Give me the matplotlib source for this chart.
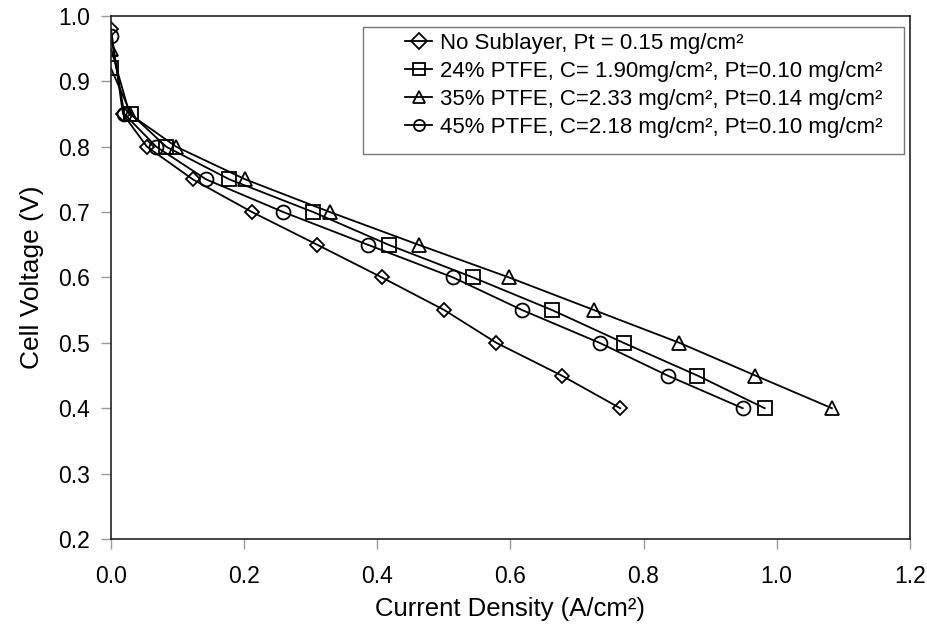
import matplotlib
matplotlib.use("Agg")
import matplotlib.pyplot as plt
from matplotlib.patches import Rectangle

plt.rcParams['font.family'] = ['Liberation Sans', 'DejaVu Sans']

# Zellspannung [V]
v_no = [0.98, 0.85, 0.80, 0.75, 0.70, 0.65, 0.60, 0.55, 0.50, 0.45, 0.40]
v_24 = [0.92, 0.85, 0.80, 0.75, 0.70, 0.65, 0.60, 0.55, 0.50, 0.45, 0.40]
v_35 = [0.95, 0.85, 0.80, 0.75, 0.70, 0.65, 0.60, 0.55, 0.50, 0.45, 0.40]
v_45 = [0.97, 0.85, 0.80, 0.75, 0.70, 0.65, 0.60, 0.55, 0.50, 0.45, 0.40]

# Stromdichte [A/cm2]
i_no = [0.0, 0.018, 0.054, 0.123, 0.212, 0.310, 0.407, 0.501, 0.579, 0.677, 0.765]
i_24 = [0.0, 0.030, 0.083, 0.178, 0.304, 0.417, 0.544, 0.663, 0.770, 0.881, 0.982]
i_35 = [0.0, 0.028, 0.098, 0.202, 0.329, 0.462, 0.598, 0.726, 0.854, 0.968, 1.083]
i_45 = [0.0, 0.020, 0.068, 0.143, 0.259, 0.386, 0.514, 0.618, 0.734, 0.836, 0.949]

labels = ['No Sublayer, Pt = 0.15 mg/cm²',
          '24% PTFE, C= 1.90mg/cm², Pt=0.10 mg/cm²',
          '35% PTFE, C=2.33 mg/cm², Pt=0.14 mg/cm²',
          '45% PTFE, C=2.18 mg/cm², Pt=0.10 mg/cm²']

fig = plt.figure(figsize=(9.28, 6.26), dpi=100)
ax = fig.add_axes([0.1196, 0.139, 0.8608, 0.8355])

stil = dict(color='black', lw=1.3, mfc='none', mec='black', mew=1.3)
ax.plot(i_no, v_no, marker='D', ms=7, label=labels[0], **stil)
ax.plot(i_24, v_24, marker='s', ms=10, label=labels[1], **stil)
ax.plot(i_35, v_35, marker='^', ms=10, label=labels[2], **stil)
ax.plot(i_45, v_45, marker='o', ms=10, label=labels[3], **stil)

ax.set_xlim(0, 1.2)
ax.set_ylim(0.2, 1.0)
ax.set_xticks([0.0, 0.2, 0.4, 0.6, 0.8, 1.0, 1.2])
ax.set_yticks([0.2, 0.3, 0.4, 0.5, 0.6, 0.7, 0.8, 0.9, 1.0])
ax.xaxis.set_major_formatter(matplotlib.ticker.FormatStrFormatter('%.1f'))
ax.yaxis.set_major_formatter(matplotlib.ticker.FormatStrFormatter('%.1f'))
ax.tick_params(direction='out', length=7, width=1, color='#999999',
               labelsize=16.5)
ax.tick_params(axis='x', pad=12)
ax.tick_params(axis='y', pad=8)

for s in ax.spines.values():
    s.set_linewidth(1.2)
    s.set_color('#222222')

ax.set_xlabel('Current Density (A/cm²)', fontsize=18.5, labelpad=6)
ax.set_ylabel('Cell Voltage (V)', fontsize=19, labelpad=10)

# Legende ohne Rahmen, Rahmen wie im Original separat
leg = ax.legend(loc='upper left', bbox_to_anchor=(0.36, 0.98), fontsize=16,
                frameon=False, handlelength=1.2, handletextpad=0.35,
                borderpad=0.3, labelspacing=0.31, borderaxespad=0)
for h in leg.legend_handles:
    h.set_markersize(8)
ax.add_patch(Rectangle((0.3158, 0.7365), 0.6768, 0.2415, transform=ax.transAxes,
                       fill=False, edgecolor='#777777', lw=1, zorder=5))

fig.savefig('out.png', dpi=100)
